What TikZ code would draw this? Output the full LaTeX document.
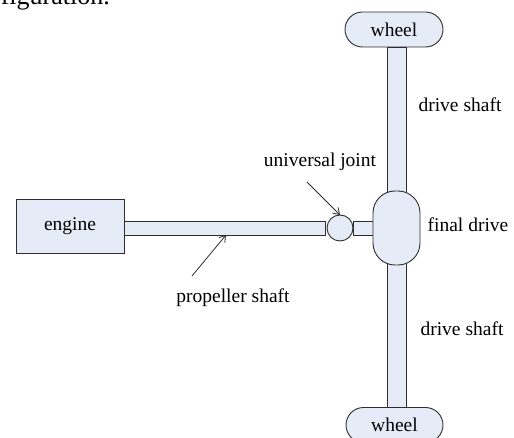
\documentclass[tikz,border=0pt]{standalone}
\usepackage{fontspec}
\setmainfont{Liberation Serif}
\usetikzlibrary{arrows.meta}
\definecolor{partfill}{RGB}{230,236,247}
\definecolor{partline}{RGB}{45,45,45}
\tikzset{
  part/.style={draw=partline, fill=partfill, line width=0.9pt, inner sep=0pt, outer sep=0pt},
  lbl/.style={font=\fontsize{19.5}{23}\selectfont, inner sep=0pt, anchor=base},
  pointer/.style={draw=partline, line width=0.8pt, -{Straight Barb[length=6pt,width=8pt]}}
}
\begin{document}
\begin{tikzpicture}[x=1pt,y=-1pt]
\useasboundingbox (0,0) rectangle (514,438);
\node[font=\fontsize{26}{30}\selectfont, inner sep=0pt, anchor=base east] (cap) at (110,5) {figuration.};
% shafts
\node[part, minimum width=19pt, minimum height=163pt] (shafttop) at (396.5,128.5) {};
\node[part, minimum width=19pt, minimum height=161pt] (shaftbot) at (396.5,326.5) {};
\node[part, minimum width=201pt, minimum height=14pt] (prop) at (224.5,228) {};
\node[part, minimum width=27pt, minimum height=14pt] (stub) at (366.5,228) {};
% parts
\node[part, minimum width=108pt, minimum height=54pt, font=\fontsize{19.5}{23}\selectfont] (engine) at (70,226) {engine};
\node[part, circle, minimum size=26pt] (ujoint) at (340,228) {};
\node[part, rounded corners=22pt, minimum width=47pt, minimum height=74pt] (final) at (396.5,228) {};
\node[part, rounded corners=17.5pt, minimum width=98pt, minimum height=35pt, font=\fontsize{19.5}{23}\selectfont] (wheeltop) at (394,29.5) {wheel};
\node[part, rounded corners=17.5pt, minimum width=97pt, minimum height=35pt, font=\fontsize{19.5}{23}\selectfont] (wheelbot) at (394.5,425) {wheel};
% labels
\node[lbl] (ds1) at (460,112) {drive shaft};
\node[lbl] (fd) at (468,232) {final drive};
\node[lbl] (ds2) at (462,335) {drive shaft};
\node[lbl] (uj) at (320,167) {universal joint};
\node[lbl] (ps) at (233,303) {propeller shaft};
% pointers
\coordinate (ujs) at (307,182);
\coordinate (pss) at (192,276);
\draw[pointer] (ujs) -- (ujoint.north);
\draw[pointer] (pss) -- (prop.south -| 226,0);
\end{tikzpicture}
\end{document}
